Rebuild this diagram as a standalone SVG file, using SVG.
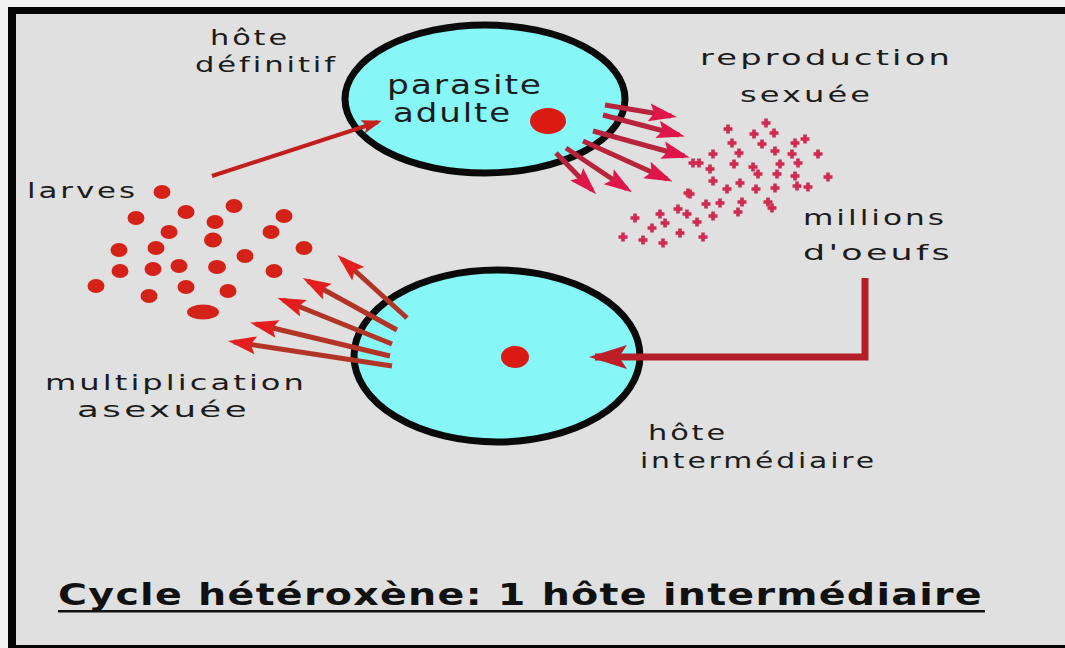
<svg xmlns="http://www.w3.org/2000/svg" xmlns:xlink="http://www.w3.org/1999/xlink" width="1065" height="648" viewBox="0 0 1065 648">
<style>
.lbl{font-family:"DejaVu Sans","Liberation Sans",sans-serif;font-size:21px;letter-spacing:2px;fill:#1c1c1c}
.big{font-family:"DejaVu Sans","Liberation Sans",sans-serif;font-size:27px;letter-spacing:1.5px;fill:#1c1c1c}
.title{font-family:"DejaVu Sans","Liberation Sans",sans-serif;font-size:31px;font-weight:bold;letter-spacing:1px;fill:#111}
.host{fill:#86f6f6;stroke:#0a0a0a;stroke-width:7}
.core{fill:#dc1a14}
.larva{fill:#d42218}
.egg{fill:#d02a52}
.sexa{stroke:#b8243c;stroke-width:5;fill:none;marker-end:url(#hCrimson)}
.asex{stroke:#b23426;stroke-width:5;fill:none;marker-end:url(#hRed)}
.dark{stroke:#c21e1e;stroke-width:4;fill:none;marker-end:url(#hDark)}
.lpath{stroke:#b41e28;stroke-width:7;fill:none;stroke-linejoin:miter;marker-end:url(#hBig)}
</style>
<defs>
<marker id="hCrimson" viewBox="-28 -12 36 24" refX="0" refY="0" markerUnits="userSpaceOnUse" markerWidth="36" markerHeight="24" orient="auto" overflow="visible">
<path d="M6,0 L-22,-9 L-17,0 L-22,9 Z" fill="#e0164a"/>
</marker>
<marker id="hRed" viewBox="-28 -12 36 24" refX="0" refY="0" markerUnits="userSpaceOnUse" markerWidth="36" markerHeight="24" orient="auto" overflow="visible">
<path d="M6,0 L-22,-9 L-17,0 L-22,9 Z" fill="#e41e1e"/>
</marker>
<marker id="hDark" viewBox="-20 -10 26 20" refX="0" refY="0" markerUnits="userSpaceOnUse" markerWidth="26" markerHeight="20" orient="auto" overflow="visible">
<path d="M4,0 L-16,-7 L-12,0 L-16,7 Z" fill="#c81e1e"/>
</marker>
<marker id="hBig" viewBox="-40 -14 48 28" refX="0" refY="0" markerUnits="userSpaceOnUse" markerWidth="48" markerHeight="28" orient="auto" overflow="visible">
<path d="M6,0 L-32,-12 L-24,0 L-32,12 Z" fill="#c01e26"/>
</marker>
<path id="egg" d="M-1.8,-4.5 H1.8 V-1.8 H4.5 V1.8 H1.8 V4.5 H-1.8 V1.8 H-4.5 V-1.8 H-1.8 Z"/>
</defs>

<rect x="0" y="0" width="1065" height="648" fill="#f2f2f2"/>
<rect x="16" y="14" width="1049" height="631" fill="#e0e0e0"/>
<rect x="8" y="7" width="1057" height="7" fill="#050505"/>
<rect x="8" y="7" width="8" height="641" fill="#050505"/>
<rect x="8" y="645" width="1057" height="3" fill="#050505"/>

<g id="oeufs" class="egg">
<use xlink:href="#egg" x="766" y="123"/><use xlink:href="#egg" x="728" y="129"/><use xlink:href="#egg" x="754" y="134"/><use xlink:href="#egg" x="774" y="133"/>
<use xlink:href="#egg" x="732" y="143"/><use xlink:href="#egg" x="762" y="144"/><use xlink:href="#egg" x="795" y="143"/><use xlink:href="#egg" x="805" y="139"/>
<use xlink:href="#egg" x="739" y="153"/><use xlink:href="#egg" x="775" y="151"/><use xlink:href="#egg" x="792" y="154"/><use xlink:href="#egg" x="818" y="154"/>
<use xlink:href="#egg" x="713" y="154"/><use xlink:href="#egg" x="699" y="163"/><use xlink:href="#egg" x="710" y="169"/><use xlink:href="#egg" x="734" y="164"/>
<use xlink:href="#egg" x="753" y="167"/><use xlink:href="#egg" x="780" y="164"/><use xlink:href="#egg" x="798" y="163"/><use xlink:href="#egg" x="758" y="174"/>
<use xlink:href="#egg" x="777" y="174"/><use xlink:href="#egg" x="795" y="176"/><use xlink:href="#egg" x="828" y="177"/><use xlink:href="#egg" x="713" y="181"/>
<use xlink:href="#egg" x="740" y="183"/><use xlink:href="#egg" x="797" y="186"/><use xlink:href="#egg" x="808" y="187"/><use xlink:href="#egg" x="756" y="189"/>
<use xlink:href="#egg" x="775" y="188"/><use xlink:href="#egg" x="727" y="189"/><use xlink:href="#egg" x="690" y="194"/><use xlink:href="#egg" x="706" y="204"/>
<use xlink:href="#egg" x="720" y="203"/><use xlink:href="#egg" x="742" y="202"/><use xlink:href="#egg" x="768" y="202"/><use xlink:href="#egg" x="772" y="208"/>
<use xlink:href="#egg" x="738" y="212"/><use xlink:href="#egg" x="678" y="209"/><use xlink:href="#egg" x="660" y="214"/><use xlink:href="#egg" x="687" y="214"/>
<use xlink:href="#egg" x="713" y="216"/><use xlink:href="#egg" x="635" y="218"/><use xlink:href="#egg" x="665" y="223"/><use xlink:href="#egg" x="697" y="222"/>
<use xlink:href="#egg" x="652" y="228"/><use xlink:href="#egg" x="680" y="233"/><use xlink:href="#egg" x="703" y="237"/><use xlink:href="#egg" x="623" y="237"/>
<use xlink:href="#egg" x="643" y="240"/><use xlink:href="#egg" x="663" y="243"/><use xlink:href="#egg" x="693" y="163"/><use xlink:href="#egg" x="688" y="193"/>
</g>

<g id="larves-dots" class="larva">
<ellipse cx="162" cy="192" rx="8.5" ry="7"/><ellipse cx="234" cy="206" rx="8.5" ry="7"/><ellipse cx="136" cy="218" rx="8.5" ry="7"/>
<ellipse cx="186" cy="212" rx="8.5" ry="7"/><ellipse cx="215" cy="222" rx="8.5" ry="7"/><ellipse cx="284" cy="216" rx="8.5" ry="7"/>
<ellipse cx="169" cy="232" rx="8.5" ry="7"/><ellipse cx="271" cy="232" rx="8.5" ry="7"/><ellipse cx="213" cy="240" rx="9" ry="7.5"/>
<ellipse cx="119" cy="250" rx="8.5" ry="7"/><ellipse cx="156" cy="248" rx="8.5" ry="7"/><ellipse cx="304" cy="248" rx="8.5" ry="7"/>
<ellipse cx="245" cy="256" rx="8.5" ry="7"/><ellipse cx="120" cy="271" rx="8.5" ry="7"/><ellipse cx="153" cy="269" rx="8.5" ry="7"/>
<ellipse cx="179" cy="266" rx="8.5" ry="7"/><ellipse cx="217" cy="267" rx="9" ry="7"/><ellipse cx="274" cy="271" rx="8.5" ry="7"/>
<ellipse cx="96" cy="286" rx="8.5" ry="7"/><ellipse cx="186" cy="287" rx="8.5" ry="7"/><ellipse cx="228" cy="291" rx="8.5" ry="7"/>
<ellipse cx="149" cy="296" rx="8.5" ry="7"/><ellipse cx="203" cy="312" rx="16" ry="7.5"/>
</g>

<g id="hote-definitif">
<ellipse class="host" cx="485" cy="99" rx="140" ry="74"/>
<ellipse class="core" cx="548" cy="121" rx="18" ry="13"/>
<text class="big" x="387" y="94" textLength="156" lengthAdjust="spacingAndGlyphs">parasite</text>
<text class="big" x="393" y="122" textLength="119" lengthAdjust="spacingAndGlyphs">adulte</text>
<text class="lbl" x="210" y="45" textLength="80" lengthAdjust="spacingAndGlyphs">hôte</text>
<text class="lbl" x="195" y="72" textLength="143" lengthAdjust="spacingAndGlyphs">définitif</text>
</g>

<g id="hote-intermediaire">
<ellipse class="host" cx="497" cy="356" rx="143" ry="86"/>
<ellipse class="core" cx="515" cy="357" rx="14" ry="11"/>
<text class="lbl" x="648" y="440" textLength="80" lengthAdjust="spacingAndGlyphs">hôte</text>
<text class="lbl" x="640" y="468" textLength="237" lengthAdjust="spacingAndGlyphs">intermédiaire</text>
</g>

<g id="connectors">
<line class="dark" x1="212" y1="176" x2="378" y2="122"/>
<line class="sexa" x1="605" y1="105" x2="671" y2="116"/>
<line class="sexa" x1="603" y1="115" x2="679" y2="135"/>
<line class="sexa" x1="593" y1="131" x2="684" y2="156"/>
<line class="sexa" x1="583" y1="141" x2="667" y2="179"/>
<line class="sexa" x1="566" y1="148" x2="627" y2="189"/>
<line class="sexa" x1="556" y1="153" x2="592" y2="190"/>
<line class="asex" x1="407" y1="318" x2="342" y2="259"/>
<line class="asex" x1="397" y1="330" x2="308" y2="281"/>
<line class="asex" x1="392" y1="344" x2="283" y2="300"/>
<line class="asex" x1="390" y1="356" x2="256" y2="324"/>
<line class="asex" x1="392" y1="366" x2="234" y2="342"/>
<path class="lpath" d="M865,278 V357 H595"/>
</g>

<g id="label-reproduction">
<text class="lbl" x="700" y="65" textLength="253" lengthAdjust="spacingAndGlyphs">reproduction</text>
<text class="lbl" x="740" y="102" textLength="133" lengthAdjust="spacingAndGlyphs">sexuée</text>
</g>
<g id="label-larves">
<text class="lbl" x="27" y="198" textLength="111" lengthAdjust="spacingAndGlyphs">larves</text>
</g>
<g id="label-oeufs">
<text class="lbl" x="803" y="225" textLength="144" lengthAdjust="spacingAndGlyphs">millions</text>
<text class="lbl" x="803" y="260" textLength="150" lengthAdjust="spacingAndGlyphs">d'oeufs</text>
</g>
<g id="label-multiplication">
<text class="lbl" x="45" y="390" textLength="262" lengthAdjust="spacingAndGlyphs">multiplication</text>
<text class="lbl" x="77" y="417" textLength="173" lengthAdjust="spacingAndGlyphs">asexuée</text>
</g>
<g id="title">
<text class="title" x="58" y="605" textLength="925" lengthAdjust="spacingAndGlyphs">Cycle hétéroxène: 1 hôte intermédiaire</text>
<rect x="58" y="610" width="927" height="2.5" fill="#111"/>
</g>
</svg>
